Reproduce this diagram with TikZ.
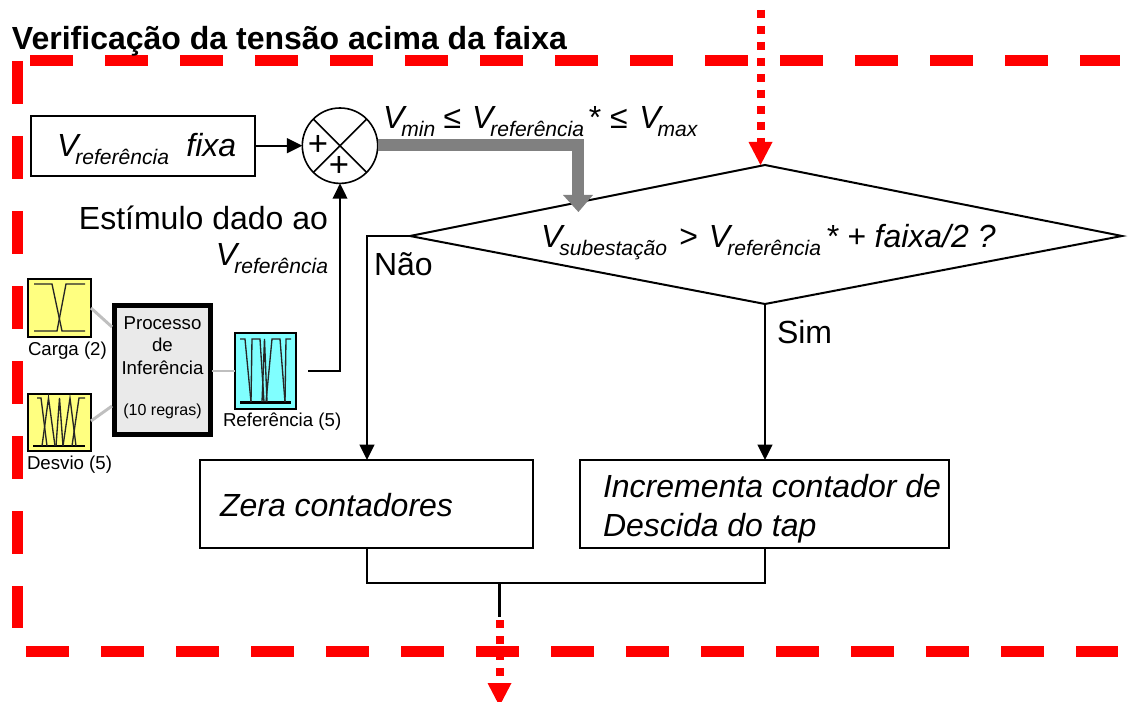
\documentclass[tikz,border=0pt]{standalone}
\usepackage{fontspec}
\setmainfont{Liberation Sans}
\usetikzlibrary{arrows.meta}
\def\pxu{0.75pt}
\definecolor{fyellow}{HTML}{FFFF80}
\definecolor{fcyan}{HTML}{80FFFF}
\definecolor{fred}{HTML}{FF0000}
\definecolor{fgrey}{HTML}{808080}
\definecolor{flink}{HTML}{BFBFBF}
\definecolor{fpanel}{HTML}{EAEAEA}
\newcommand{\fs}[1]{\fontsize{#1}{#1}\selectfont}
\newcommand{\Vs}[1]{\textit{V\kern-2.2pt\raisebox{-5.6pt}{\fs{15.8}#1}}}
\tikzset{
  x=0.75pt,y=-0.75pt,
  txt/.style={inner sep=0pt,outer sep=0pt,anchor=base west,font=\fs{24}},
  small/.style={inner sep=0pt,outer sep=0pt,anchor=base west,font=\fs{14}},
  ctext/.style={inner sep=0pt,outer sep=0pt,anchor=base,font=\fs{14}},
  flowbox/.style={draw=black,line width=1.5pt,fill=white,inner sep=0pt,outer sep=0pt,anchor=north west},
  fuzzybox/.style={draw=black,line width=1.5pt,inner sep=0pt,outer sep=0pt,anchor=north west},
  line/.style={draw=black,line width=1.5pt},
  arrowline/.style={line,-{Triangle[length=11.5pt,width=11pt]}},
  reddash/.style={draw=fred,line width=8.25pt,dash pattern=on 32.25pt off 24pt},
  reddot/.style={draw=fred,line width=6pt,dash pattern=on 6pt off 6pt},
  redhead/.style={fill=fred,draw=none},
  greylink/.style={draw=flink,line width=2.2pt},
  mf/.style={draw=black!85,line width=1pt},
  mfbase/.style={draw=black,line width=1.6pt},
}
\begin{document}
\begin{tikzpicture}
\useasboundingbox (0,0) rectangle (1134,702);
\begin{scope}
\clip (0,0) rectangle (1134,702);

% coordinates
\coordinate (topstart) at (30,61);
\coordinate (topend) at (1120,61);
\coordinate (leftstart) at (17.7,61);
\coordinate (leftend) at (17.7,628);
\coordinate (botstart) at (26,651);
\coordinate (botend) at (1118,651);
\coordinate (dT) at (765,165);
\coordinate (dL) at (410,236);
\coordinate (dR) at (1122,236);
\coordinate (dB) at (765,304);

% red frame
\draw[reddash] (topstart) -- (topend);
\draw[reddash] (leftstart) -- (leftend);
\draw[reddash] (botstart) -- (botend);

% title
\node[txt,font=\fs{24}\bfseries] (title) at (12,50) {Verificação da tensão acima da faixa};

% decision
\draw[line] (dT) -- (dR) -- (dB) -- (dL) -- cycle;
\node[txt] (cond) at (541,247.7) {\Vs{subestação}\kern2.5pt{} > \kern1.5pt\Vs{referência}\kern3.5pt\textit{* + faixa/2 ?}};

% top dotted entry
\coordinate (inTop) at (760.5,10);
\coordinate (inBase) at (760.5,142);
\coordinate (inTip) at (760.5,165);
\draw[reddot] (inTop) -- (inBase);
\fill[redhead] (748.5,142) -- (772.5,142) -- (inTip) -- cycle;

% V fixa
\node[flowbox,minimum width=224*\pxu,minimum height=60*\pxu] (fixa) at (31,115.7) {};
\node[txt] (fixat) at (57,157) {\Vs{referência}\hspace{13pt}\textit{fixa}};

% sum
\node[draw=black,line width=1.2pt,circle,minimum size=75.4*\pxu,inner sep=0pt,outer sep=0pt,fill=white] (sum) at (340,145.7) {};
\draw[line width=1.2pt] (sum.north west) -- (sum.south east);
\draw[line width=1.2pt] (sum.north east) -- (sum.south west);
\node[inner sep=0pt,font=\fs{26}] (p1) at (318,145) {+};
\node[inner sep=0pt,font=\fs{26}] (p2) at (339,166) {+};
\draw[arrowline] (fixa.east) -- (sum.west);

% gray bus
\coordinate (busCorner) at (578.4,145.5);
\coordinate (busEnd) at (578.4,196);
\draw[draw=fgrey,line width=9pt] (sum.east |- busCorner) -- (busCorner) -- (busEnd);
\fill[fgrey] (563,195) -- (593,195) -- (578.4,212) -- cycle;
\node[txt] (limits) at (383,129) {\Vs{min}\kern-0.5pt{} ≤ \kern1.5pt\Vs{referência}\kern3.5pt* ≤ \kern2pt\Vs{max}};

% stimulus
\node[txt,anchor=base east] (est) at (328,229) {Estímulo dado ao};
\node[txt,anchor=base east] (estv) at (328,266) {\Vs{referência}};

% fuzzy blocks
\node[fuzzybox,fill=fyellow,minimum width=63*\pxu,minimum height=58*\pxu] (carga) at (28,279) {};
\node[fuzzybox,fill=fyellow,minimum width=63*\pxu,minimum height=57*\pxu] (desvio) at (28,394) {};
\node[fuzzybox,fill=fcyan,minimum width=61*\pxu,minimum height=76*\pxu] (ref) at (235,333) {};
\node[draw=black,line width=3.75pt,fill=fpanel,inner sep=0pt,outer sep=0pt,anchor=north west,minimum width=96*\pxu,minimum height=129*\pxu] (inf) at (114,305) {};

\coordinate (ca) at (91,308);\coordinate (cb) at (112,327);
\coordinate (da) at (91,421);\coordinate (db) at (112,406);
\coordinate (ra) at (212,371);\coordinate (rb) at (235,371);
\draw[greylink] (ca) -- (cb);
\draw[greylink] (da) -- (db);
\draw[greylink] (ra) -- (rb);

% membership functions
\draw[mf] (34,284) -- (52,284) -- (62,331) -- (85,331);
\draw[mf] (34,331) -- (57,331) -- (66,284) -- (85,284);

\draw[mfbase] (33,446) -- (85,446);
\draw[mf] (37,398) -- (41,398) -- (47,446);
\draw[mf] (42,446) -- (48.5,398) -- (55,446);
\draw[mf] (56,446) -- (59.5,398) -- (63,446);
\draw[mf] (63,446) -- (70,398) -- (76,446);
\draw[mf] (72,446) -- (79,398) -- (85,398);

\draw[mfbase] (240,402.5) -- (291,402.5);
\draw[mf] (240,339) -- (245,339) -- (251,402);
\draw[mf] (251,402) -- (252,339) -- (260,339) -- (264,402);
\draw[mf] (262,402) -- (264.5,339) -- (267,402);
\draw[mf] (266,402) -- (272,339) -- (280,339) -- (285,402);
\draw[mf] (285,402) -- (286,339) -- (291,339);

\node[small] (lc) at (28,355) {Carga (2)};
\node[small] (ld) at (27,469) {Desvio (5)};
\node[small] (lr) at (223,426) {Referência (5)};
\node[ctext] (i1) at (162.5,329) {Processo};
\node[ctext] (i2) at (162.5,351) {de};
\node[ctext] (i3) at (162.5,374) {Inferência};
\node[ctext,font=\fs{12}] (i4) at (162.5,415) {(10 regras)};

% stimulus arrow
\coordinate (refout) at (308,371);
\coordinate (refcorner) at (340,371);
\draw[arrowline] (refout) -- (refcorner) -- (sum.south);

% branches
\node[flowbox,minimum width=333*\pxu,minimum height=88*\pxu] (zera) at (200,460) {};
\node[flowbox,minimum width=369*\pxu,minimum height=88*\pxu] (inc) at (580,460) {};
\node[txt] (zt) at (220,516) {\textit{Zera contadores}};
\node[txt] (it1) at (603,497) {\textit{Incrementa contador de}};
\node[txt] (it2) at (603,536) {\textit{Descida do tap}};
\coordinate (naoCorner) at (367,236);
\coordinate (naoEnd) at (367,460);
\coordinate (simEnd) at (765,460);
\draw[arrowline] (dL) -- (naoCorner) -- (naoEnd);
\draw[arrowline] (dB) -- (simEnd);
\node[txt] (nao) at (374,276) {Não};
\node[txt] (sim) at (777,343) {Sim};

% merge
\coordinate (mL) at (367,548);
\coordinate (mLb) at (367,583);
\coordinate (mRb) at (765,583);
\coordinate (mR) at (765,548);
\draw[line] (mL) -- (mLb) -- (mRb) -- (mR);
\coordinate (outTop) at (499.5,583);
\coordinate (outMid) at (499.5,617);
\coordinate (outDot) at (499.5,620);
\coordinate (outDotEnd) at (499.5,680);
\draw[draw=black,line width=2.4pt] (outTop) -- (outMid);
\draw[reddot] (outDot) -- (outDotEnd);
\fill[redhead] (487.5,683) -- (511.5,683) -- (499.5,706) -- cycle;
\end{scope}
\end{tikzpicture}
\end{document}
